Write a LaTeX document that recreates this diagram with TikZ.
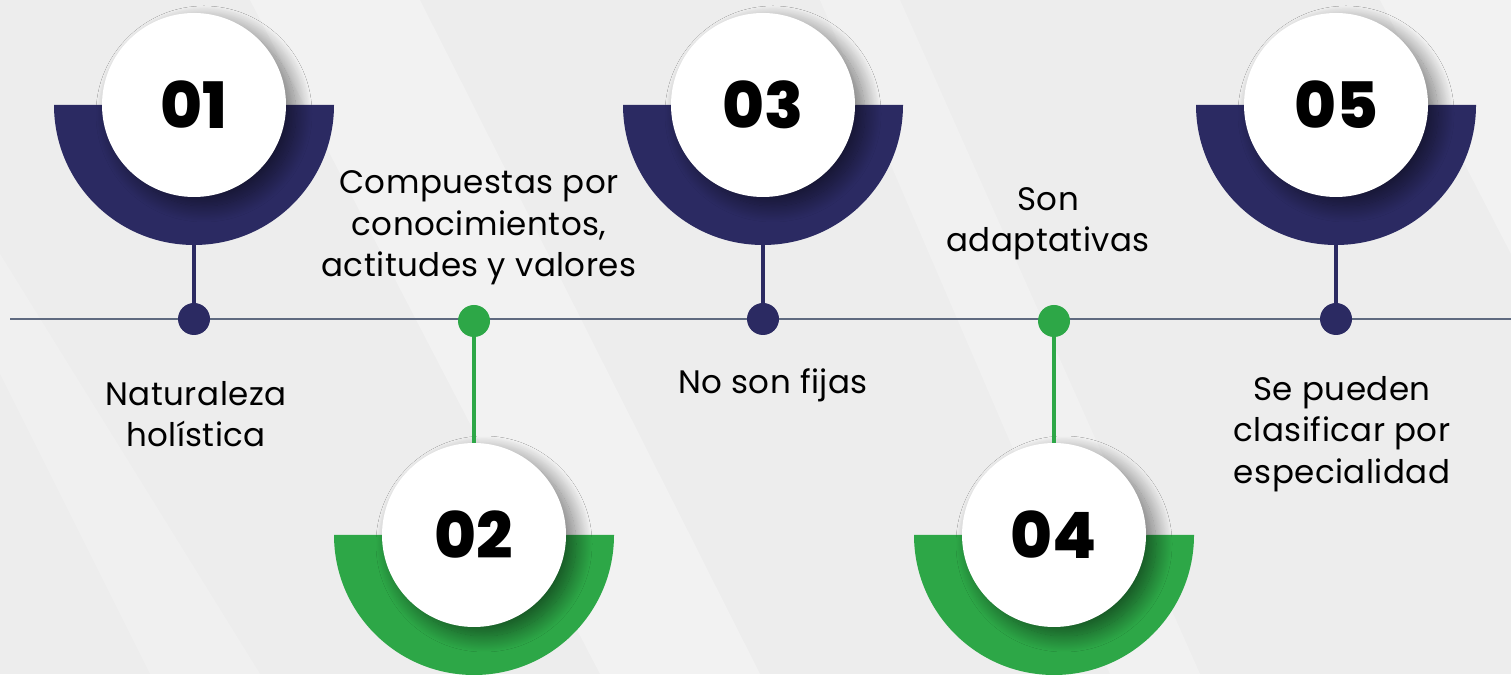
\documentclass[tikz,border=0pt]{standalone}
\usepackage{fontspec}
\setmainfont{Poppins}[LetterSpace=1.5]
\newfontfamily\numfont{Poppins}[UprightFont=* ExtraBold]
\usetikzlibrary{shadows.blur}

\definecolor{navy}{HTML}{2B2A62}
\definecolor{leaf}{HTML}{2DA747}
\definecolor{rule}{HTML}{5F6A80}
\definecolor{paper}{HTML}{EDEDED}

\begin{document}
\begin{tikzpicture}[x=1pt, y=1pt,
    disc/.style={circle, fill=white, minimum size=184pt, inner sep=0pt,
      font=\fontsize{64}{64}\selectfont\numfont,
      blur shadow={shadow xshift=10pt, shadow yshift=-9pt,
        shadow blur radius=16pt, shadow blur steps=30, shadow opacity=50}},
    dot/.style={circle, minimum size=32pt, inner sep=0pt},
    label/.style={align=center, font=\fontsize{32.5}{41.5}\selectfont},
    stem/.style={line width=4pt}]

    % Background.
    \useasboundingbox (0,0) rectangle (1511,674);
    \clip (0,0) rectangle (1511,674);
    \fill [paper] (0,0) rectangle (1511,674);
    \fill [white, opacity=0.30] (250,674) -- (420,674) -- (760,0) -- (600,0) -- cycle;
    \fill [white, opacity=0.25] (820,674) -- (900,674) -- (1200,0) -- (1110,0) -- cycle;
    \fill [white, opacity=0.30] (1380,674) -- (1511,674) -- (1511,420) -- cycle;
    \fill [white, opacity=0.20] (0,420) -- (0,300) -- (150,0) -- (260,0) -- cycle;

    % Timeline.
    \coordinate (start) at (10,355);
    \coordinate (end) at (1511,355);
    \draw [rule, line width=1.6pt] (start) -- (end);

    % Half rings.
    \fill [navy] (54,569)   arc [start angle=180, end angle=360, radius=140] -- cycle;
    \fill [leaf] (334,139)  arc [start angle=180, end angle=360, radius=140] -- cycle;
    \fill [navy] (623,569)  arc [start angle=180, end angle=360, radius=140] -- cycle;
    \fill [leaf] (914,139)  arc [start angle=180, end angle=360, radius=140] -- cycle;
    \fill [navy] (1196,569) arc [start angle=180, end angle=360, radius=140] -- cycle;
    \coordinate (b1) at (194,429);
    \coordinate (b3) at (763,429);
    \coordinate (b5) at (1336,429);

    % Number circles.
    \node [disc] (c1) at (194,569)  {01};
    \node [disc] (c2) at (474,139)  {02};
    \node [disc] (c3) at (763,569)  {03};
    \node [disc] (c4) at (1054,139) {04};
    \node [disc] (c5) at (1336,569) {05};

    % Dots on the line.
    \node [dot, fill=navy] (d1) at (194,355)  {};
    \node [dot, fill=leaf] (d2) at (474,353)  {};
    \node [dot, fill=navy] (d3) at (763,355)  {};
    \node [dot, fill=leaf] (d4) at (1054,353) {};
    \node [dot, fill=navy] (d5) at (1336,355) {};

    % Stems.
    \draw [stem, navy] (b1) -- (d1.center);
    \draw [stem, leaf] (d2.center) -- (c2.north);
    \draw [stem, navy] (b3) -- (d3.center);
    \draw [stem, leaf] (d4.center) -- (c4.north);
    \draw [stem, navy] (b5) -- (d5.center);

    % Texts.
    \node [label] (t1) at (196,260)  {Naturaleza\\hol\'{\i}stica};
    \node [label] (t2) at (479,446)  {Compuestas por\\conocimientos,\\actitudes y valores};
    \node [label] (t3) at (773,289)  {No son fijas};
    \node [label] (t4) at (1048,450) {Son\\adaptativas};
    \node [label] (t5) at (1342,240) {Se pueden\\clasificar por\\especialidad};

  \end{tikzpicture}
\end{document}
